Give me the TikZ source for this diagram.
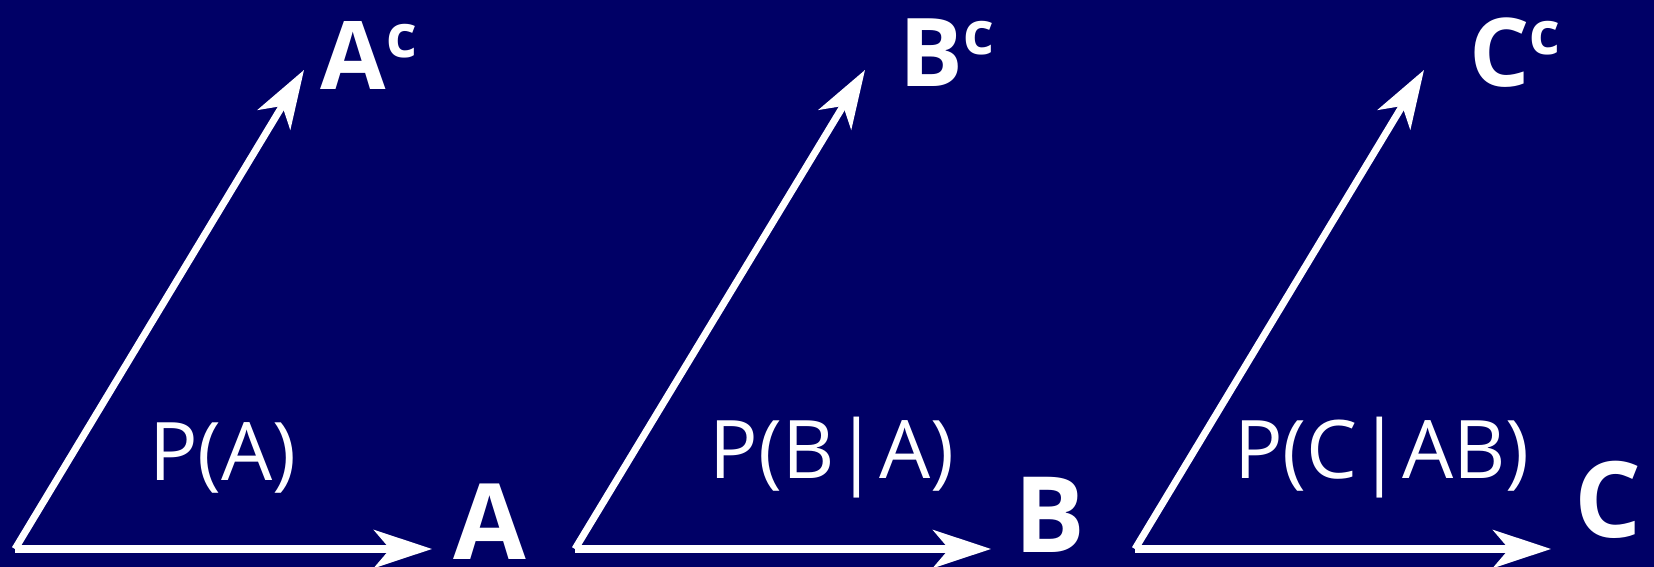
\documentclass[tikz,border=0pt]{standalone}
\usepackage{fontspec}
\setmainfont{Open Sans}
\usetikzlibrary{arrows.meta}
\definecolor{navy}{RGB}{0,0,102}

\begin{document}
\begin{tikzpicture}[
    vec/.style={-{Stealth[length=5.8mm, width=3.8mm, inset=1.6mm]}, line width=2pt, white},
    event/.style={text=white, font=\fontsize{30}{32}\selectfont\bfseries, inner sep=0pt},
    compl/.style={text=white, font=\fontsize{27}{30}\selectfont\bfseries, inner sep=0pt},
    prob/.style={text=white, font=\fontsize{23}{26}\selectfont, inner sep=0pt}
]
\fill[navy] (0,0) rectangle (16.54,5.67);
\useasboundingbox (0,0) rectangle (16.54,5.67);

% First split: A
\coordinate (oA) at (0.15,0.18);
\coordinate (tA) at (4.32,0.18);
\coordinate (uA) at (3.04,4.97);
\node[event] (labA) at (4.90,0.45) {A};
\node[compl] (labAc) at (3.69,5.11) {A\raisebox{3.2mm}{\fontsize{17}{18}\selectfont c}};
\node[prob] (pA) at (2.23,1.09) {P(A)};
\draw[vec] (oA) -- (tA);
\draw[vec] (oA) -- (uA);

% Second split: B
\coordinate (oB) at (5.75,0.18);
\coordinate (tB) at (9.91,0.18);
\coordinate (uB) at (8.65,4.97);
\node[event] (labB) at (10.50,0.52) {B};
\node[compl] (labBc) at (9.47,5.14) {B\raisebox{3.2mm}{\fontsize{17}{18}\selectfont c}};
\node[prob] (pB) at (8.32,1.09) {P(B|A)};
\draw[vec] (oB) -- (tB);
\draw[vec] (oB) -- (uB);

% Third split: C
\coordinate (oC) at (11.35,0.18);
\coordinate (tC) at (15.51,0.18);
\coordinate (uC) at (14.24,4.97);
\node[event] (labC) at (16.08,0.67) {C};
\node[compl] (labCc) at (15.15,5.14) {C\raisebox{3.2mm}{\fontsize{17}{18}\selectfont c}};
\node[prob] (pC) at (13.82,1.09) {P(C|AB)};
\draw[vec] (oC) -- (tC);
\draw[vec] (oC) -- (uC);

\end{tikzpicture}
\end{document}
